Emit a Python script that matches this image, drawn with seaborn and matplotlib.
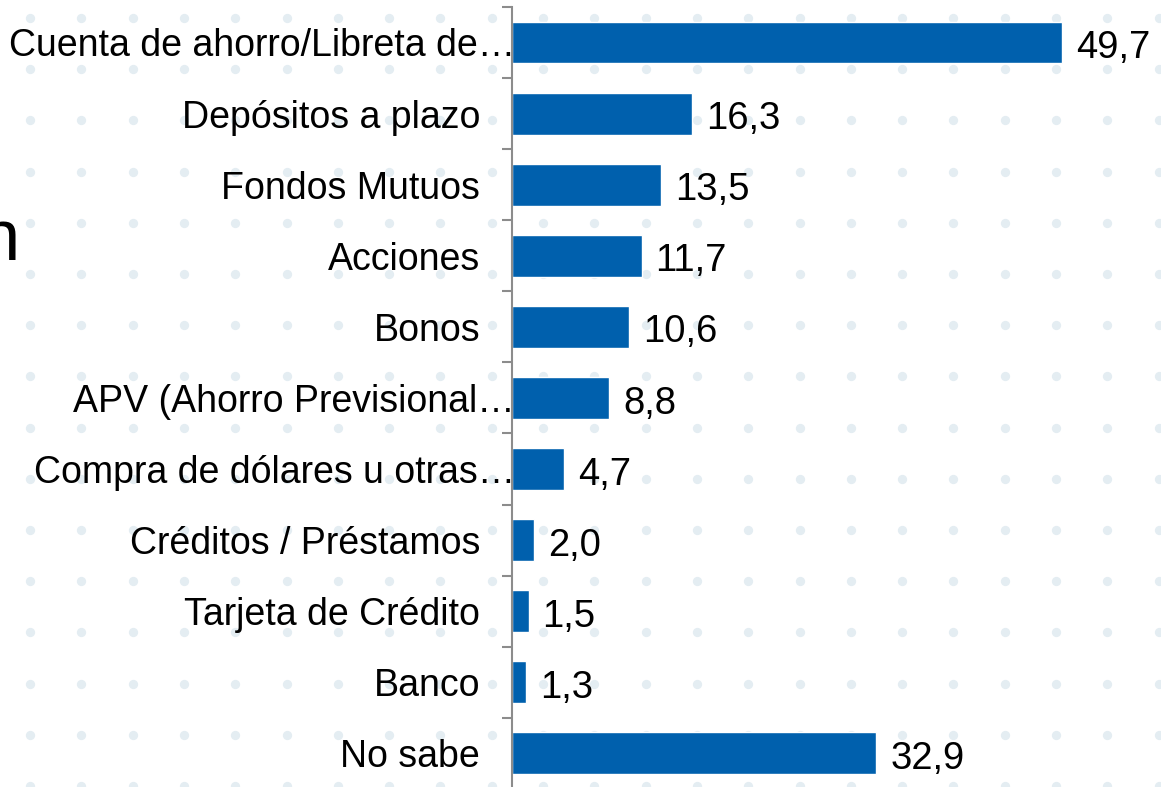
import numpy as np
import pandas as pd
import matplotlib
matplotlib.use("Agg")
import matplotlib.pyplot as plt
import matplotlib.transforms as mtransforms
import seaborn as sns

# Data
categories = [
    "Cuenta de ahorro/Libreta de…",
    "Depósitos a plazo",
    "Fondos Mutuos",
    "Acciones",
    "Bonos",
    "APV (Ahorro Previsional…",
    "Compra de dólares u otras…",
    "Créditos / Préstamos",
    "Tarjeta de Crédito",
    "Banco",
    "No sabe",
]
values = [49.7, 16.3, 13.5, 11.7, 10.6, 8.8, 4.7, 2.0, 1.5, 1.3, 32.9]
truncated = [True, False, False, False, False, True, True, False, False, False, False]

df = pd.DataFrame({"categoria": categories, "valor": values})

sns.set_theme(style="white")
plt.rcParams["font.family"] = ["Liberation Sans", "DejaVu Sans"]

W, H = 1161, 787
fig = plt.figure(figsize=(W / 100, H / 100), dpi=100)

# faint dotted slide background
bg = fig.add_axes([0, 0, 1, 1], zorder=-5)
bg.set_xlim(0, W)
bg.set_ylim(H, 0)
bg.axis("off")
gx, gy = np.meshgrid(np.arange(30, W, 51.3), np.arange(18, H, 51.2))
bg.scatter(gx.ravel(), gy.ravel(), s=45, color="#e4edf2", linewidths=0)
# leftover of the slide title, cut at the edge as in the original
fig.text(-0.018, 0.670, "n", fontsize=52, color="black", ha="left", va="baseline")

ax = fig.add_axes([512 / W, -0.0025, 1 - 512 / W, 0.9937])
ax.patch.set_alpha(0)

sns.barplot(data=df, y="categoria", x="valor", orient="h", color="#0060ad",
            saturation=1, width=0.59, ax=ax)

ax.set_xlim(0, (W - 512) / 11.07)
ax.set_ylim(len(categories) - 0.5, -0.5)
ax.set_xlabel("")
ax.set_ylabel("")
ax.set_xticks([])

for s in ["top", "right", "bottom"]:
    ax.spines[s].set_visible(False)
ax.spines["left"].set_color("#8c8c8c")
ax.spines["left"].set_linewidth(1.5)

# boundary ticks between categories
ax.set_yticks(np.arange(-0.5, len(categories), 1), minor=True)
ax.tick_params(axis="y", which="minor", left=True, length=7.5, width=1.5, color="#8c8c8c")
ax.tick_params(axis="y", which="major", left=False, length=0, pad=23, labelsize=27,
               labelcolor="black")

for lab, t in zip(ax.get_yticklabels(), truncated):
    if t:
        off = mtransforms.ScaledTranslation(25 / 72, 0, fig.dpi_scale_trans)
        lab.set_transform(lab.get_transform() + off)

texts = ax.bar_label(ax.containers[0], labels=[f"{v:.1f}".replace(".", ",") for v in values],
                     padding=10, fontsize=27.5, color="black")
for t in texts:
    x0, y0 = t.xyann
    t.xyann = (x0, y0 - 4)

fig.savefig("out.png", dpi=100)
